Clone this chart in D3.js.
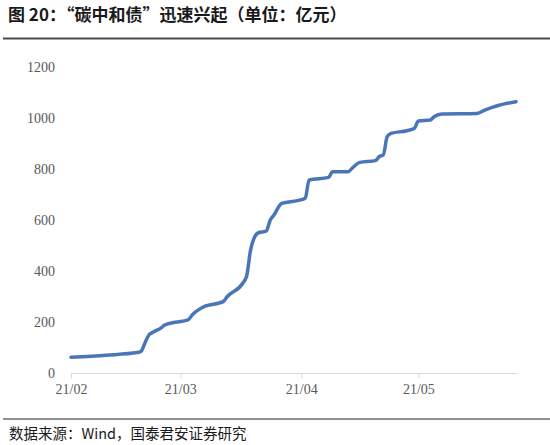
<!DOCTYPE html>
<html>
<head>
<meta charset="utf-8">
<script src="https://cdn.jsdelivr.net/npm/d3@7"></script>
<style>
  body { margin: 0; background: #fff; }
  svg { display: block; }
  .tick text { font-family: "Liberation Serif", "Times New Roman", "DejaVu Serif", serif; }
</style>
</head>
<body>
<svg id="chart" width="550" height="445"></svg>
<script>
/* Data: cumulative carbon-neutral bond issuance, 100m yuan */
const dates = [
  "2021-02-01", "2021-02-10", "2021-02-18", "2021-02-19", "2021-02-20", "2021-02-21",
  "2021-02-22", "2021-02-24", "2021-02-25", "2021-02-27", "2021-03-03", "2021-03-04",
  "2021-03-07", "2021-03-12", "2021-03-13", "2021-03-17", "2021-03-18", "2021-03-19",
  "2021-03-20", "2021-03-21", "2021-03-23", "2021-03-24", "2021-03-25", "2021-03-27",
  "2021-03-31", "2021-04-02", "2021-04-03", "2021-04-08", "2021-04-09", "2021-04-13",
  "2021-04-14", "2021-04-16", "2021-04-20", "2021-04-21", "2021-04-22", "2021-04-23",
  "2021-04-24", "2021-04-28", "2021-04-30", "2021-05-01", "2021-05-04", "2021-05-05",
  "2021-05-07", "2021-05-16", "2021-05-18", "2021-05-21", "2021-05-26"
];
const values = [
  62, 70, 80, 86, 120, 150,
  160, 176, 188, 197, 208, 227,
  260, 280, 299, 352, 380, 482,
  532, 550, 556, 598, 620, 665,
  676, 685, 757, 767, 789, 789,
  803, 826, 833, 849, 855, 927,
  940, 950, 960, 988, 992, 1005,
  1016, 1018, 1031, 1047, 1064
];
const yTicks = [0, 200, 400, 600, 800, 1000, 1200];
const xTicks = ["2021-02-01", "2021-03-01", "2021-04-01", "2021-05-01"];

const titleText = "图 20：“碳中和债”迅速兴起（单位：亿元）";
const sourceText = "数据来源：Wind，国泰君安证券研究";

const parse = d3.timeParse("%Y-%m-%d");
const data = dates.map((d, i) => ({ date: parse(d), value: values[i] }));

const svg = d3.select("#chart");

/* Header and footer */
svg.append("text")
  .attr("x", 8).attr("y", 21)
  .style("font-family", "'Noto Sans CJK SC', sans-serif")
  .style("font-size", "17px").style("font-weight", "bold")
  .style("fill", "#1a1a1a")
  .text(titleText);

svg.append("line")
  .attr("x1", 3).attr("x2", 550).attr("y1", 38.5).attr("y2", 38.5)
  .attr("stroke", "#4d4d4d").attr("stroke-width", 2);

svg.append("line")
  .attr("x1", 3).attr("x2", 550).attr("y1", 419).attr("y2", 419)
  .attr("stroke", "#222").attr("stroke-width", 1.2);

svg.append("text")
  .attr("x", 9).attr("y", 439)
  .style("font-family", "'Noto Sans CJK SC', sans-serif")
  .style("font-size", "14.5px")
  .style("fill", "#1a1a1a")
  .text(sourceText);

/* Scales */
const x = d3.scaleTime()
  .domain([parse("2021-02-01"), parse("2021-05-26")])
  .range([71, 516]);

const y = d3.scaleLinear()
  .domain([0, 1200])
  .range([373, 67]);

/* X axis */
const xAxis = svg.append("g")
  .attr("transform", "translate(0,373)")
  .call(d3.axisBottom(x)
    .tickValues(xTicks.map(parse))
    .tickFormat(d3.timeFormat("%y/%m"))
    .tickSize(5).tickSizeOuter(0).tickPadding(6));
xAxis.attr("font-family", null);
xAxis.select(".domain").attr("stroke", "#d9d9d9").attr("stroke-width", 1.2);
xAxis.selectAll(".tick line").attr("stroke", "#d9d9d9");
xAxis.selectAll("text")
  .style("font-size", "14px").style("fill", "#595959");

/* Y axis */
const yAxis = svg.append("g")
  .attr("transform", "translate(71,0)")
  .call(d3.axisLeft(y).tickValues(yTicks).tickFormat(d3.format("d"))
    .tickSize(0).tickPadding(16));
yAxis.attr("font-family", null);
yAxis.select(".domain").remove();
yAxis.selectAll("text")
  .style("font-size", "14px").style("fill", "#595959");

/* Line */
const line = d3.line()
  .x(d => x(d.date))
  .y(d => y(d.value))
  .curve(d3.curveMonotoneX);

svg.append("path")
  .datum(data)
  .attr("d", line)
  .attr("fill", "none")
  .attr("stroke", "#4a76b9")
  .attr("stroke-width", 3.5)
  .attr("stroke-linejoin", "round")
  .attr("stroke-linecap", "round");
</script>
</body>
</html>
